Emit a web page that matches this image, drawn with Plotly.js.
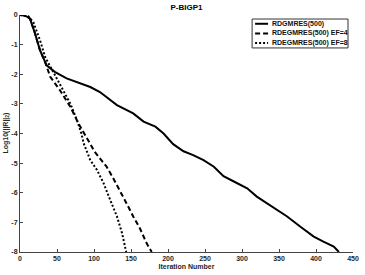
<!DOCTYPE html>
<html>
<head>
<meta charset="utf-8">
<script src="https://cdn.plot.ly/plotly-3.0.1.min.js"></script>
<style>html,body{margin:0;padding:0;background:#fff;}#chart{width:365px;height:275px;}</style>
</head>
<body>
<div id="chart"></div>
<script>
// Series names
const seriesNames = ["RDGMRES(500)", "RDEGMRES(500) EF=4", "RDEGMRES(500) EF=8"];

// RDGMRES(500)
const solidX = [0, 5, 10, 13.5, 20, 27, 36, 47, 63, 81, 95, 108, 122, 131, 153, 167, 183, 194, 207, 221, 234, 248, 262, 275, 289, 307, 320, 334, 347, 361, 379, 397, 410, 424, 431];
const solidY = [0, -0.01, -0.06, -0.12, -0.6, -1.19, -1.7, -1.92, -2.14, -2.31, -2.43, -2.6, -2.87, -3.04, -3.32, -3.6, -3.77, -4.0, -4.36, -4.6, -4.73, -4.9, -5.12, -5.44, -5.62, -5.85, -6.13, -6.36, -6.58, -6.8, -7.15, -7.48, -7.65, -7.82, -8.0];

// RDEGMRES(500) EF=4
const dashX = [0, 5, 10, 13.5, 20, 27, 34, 41, 54, 68, 79, 87, 92, 101, 108, 117, 126, 135, 144, 153, 162, 171, 178];
const dashY = [0, -0.01, -0.06, -0.12, -0.6, -1.19, -1.6, -2.09, -2.54, -3.1, -3.66, -4.0, -4.22, -4.62, -4.84, -5.12, -5.51, -5.91, -6.36, -6.8, -7.2, -7.7, -8.0];

// RDEGMRES(500) EF=8
const dotX = [0, 6, 11, 18, 27, 34, 45, 56, 68, 77, 83, 86, 95, 104, 113, 122, 131, 138, 143.5];
const dotY = [0, -0.01, -0.04, -0.24, -0.85, -1.42, -1.92, -2.43, -2.99, -3.55, -4.0, -4.33, -4.9, -5.23, -5.68, -6.25, -6.8, -7.37, -8.0];

// Axis ticks
const xTicks = [0, 50, 100, 150, 200, 250, 300, 350, 400, 450];
const yTicks = [0, -1, -2, -3, -4, -5, -6, -7, -8];

const font = {family: "Liberation Sans, Arial, sans-serif", size: 7, color: "#262626"};
const dashes = ["solid", "5px,3px", "2px,2px"];

const traces = [
  {x: solidX, y: solidY, name: seriesNames[0], mode: "lines", line: {color: "#000", width: 2, dash: dashes[0]}},
  {x: dashX, y: dashY, name: seriesNames[1], mode: "lines", line: {color: "#000", width: 2, dash: dashes[1]}},
  {x: dotX, y: dotY, name: seriesNames[2], mode: "lines", line: {color: "#000", width: 2, dash: dashes[2]}}
];

// Custom legend (paper coords)
const shapes = [{type: "rect", xref: "paper", yref: "paper", x0: 0.697, x1: 0.985, y0: 0.861, y1: 0.983, line: {color: "#333", width: 1}, fillcolor: "#fff", layer: "above"}];
const annotations = [];
const legendY = [0.963, 0.922, 0.882];
for (let i = 0; i < 3; i++) {
  shapes.push({type: "line", xref: "paper", yref: "paper", x0: 0.706, x1: 0.745, y0: legendY[i], y1: legendY[i], line: {color: "#000", width: 2, dash: dashes[i]}, layer: "above"});
  annotations.push({xref: "paper", yref: "paper", x: 0.75, y: legendY[i], xanchor: "left", yanchor: "middle", text: "<b>" + seriesNames[i] + "</b>", showarrow: false, font: {family: font.family, size: 7, color: "#111"}});
}
// Y axis title as rotated annotation
annotations.push({xref: "paper", yref: "paper", x: -0.045, y: 0.5, xanchor: "center", yanchor: "middle", textangle: -90, text: "<b>Log10(||R||<sub>2</sub>)</b>", showarrow: false, font: {family: font.family, size: 7, color: "#262626"}});

const layout = {
  width: 365, height: 275,
  margin: {l: 20, r: 12, t: 15, b: 23},
  paper_bgcolor: "#fff", plot_bgcolor: "#fff",
  showlegend: false,
  font: font,
  title: {text: "<b>P-BIGP1</b>", x: 0.511, xanchor: "center", y: 0.985, yanchor: "top", font: {family: font.family, size: 8, color: "#000"}},
  xaxis: {
    range: [0, 450], tickvals: xTicks, ticktext: xTicks.map(v => "<b>" + v + "</b>"),
    ticks: "inside", ticklen: 3, tickcolor: "#444", showline: true, linecolor: "#444", linewidth: 1,
    showgrid: false, zeroline: false, mirror: false,
    tickfont: {family: font.family, size: 7, color: "#262626"},
    title: {text: "<b>Iteration Number</b>", standoff: 2, font: {family: font.family, size: 7, color: "#262626"}}
  },
  yaxis: {
    range: [-8, 0], tickvals: yTicks, ticktext: yTicks.map(v => "<b>" + v + "</b>"),
    ticks: "inside", ticklen: 3, tickcolor: "#444", showline: true, linecolor: "#444", linewidth: 1,
    showgrid: false, zeroline: false, mirror: false,
    tickfont: {family: font.family, size: 7, color: "#262626"}
  },
  shapes: shapes,
  annotations: annotations
};

Plotly.newPlot("chart", traces, layout, {displayModeBar: false, staticPlot: true});
</script>
</body>
</html>
